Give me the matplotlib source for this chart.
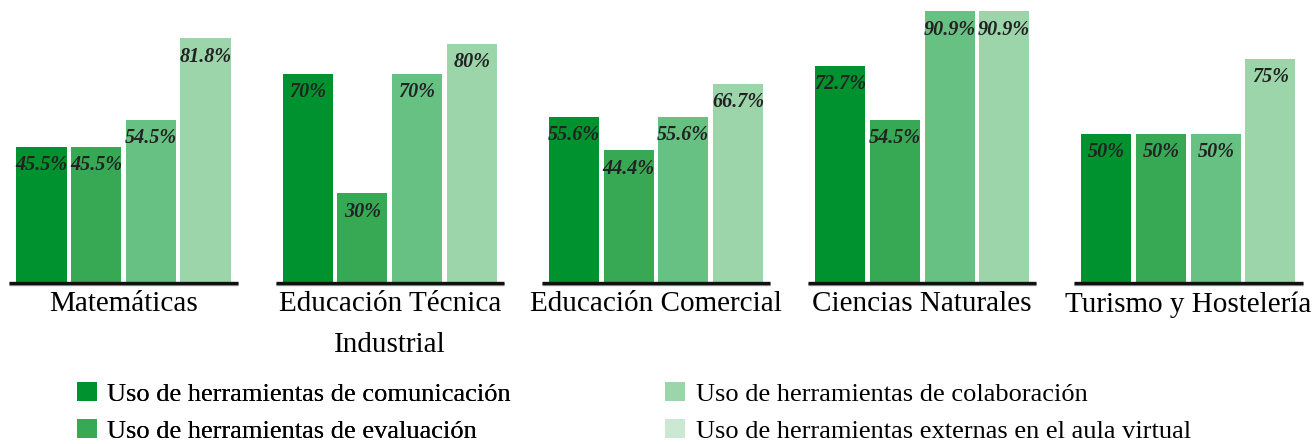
import matplotlib
matplotlib.use('Agg')
import matplotlib.pyplot as plt
from matplotlib.patches import Patch

plt.rcParams['font.family'] = ['Liberation Serif', 'DejaVu Serif']

# Porcentajes por especialidad y tipo de herramienta
especialidades = ['Matemáticas', 'Educación Técnica\nIndustrial', 'Educación Comercial',
                  'Ciencias Naturales', 'Turismo y Hostelería']
comunicacion = [45.5, 70, 55.6, 72.7, 50]
evaluacion = [45.5, 30, 44.4, 54.5, 50]
colaboracion = [54.5, 70, 55.6, 90.9, 50]
externas = [81.8, 80, 66.7, 90.9, 75]

series = [comunicacion, evaluacion, colaboracion, externas]
nombres = ['Uso de herramientas de comunicación', 'Uso de herramientas de evaluación',
           'Uso de herramientas de colaboración', 'Uso de herramientas externas en el aula virtual']
colores = ['#00922e', '#37a955', '#66c183', '#9dd5ab']
colores_leyenda = ['#00922e', '#37a955', '#9dd5ab', '#cbe8d3']

paso_grupo = 4.87
ancho = 0.915

fig = plt.figure(figsize=(13.12, 4.44), dpi=100)
ax = fig.add_axes([0, 0.3626, 1, 0.6374])

centros = []
for g, esp in enumerate(especialidades):
    x0 = g * paso_grupo
    for i, s in enumerate(series):
        v = s[g]
        ax.bar(x0 + i, v, width=ancho, color=colores[i], linewidth=0)
        ax.annotate(f'{v:g}%', (x0 + i, v), xytext=(0, -6), textcoords='offset points',
                    ha='center', va='top', fontsize=14.5, fontweight='bold', fontstyle='italic',
                    color='#222222')
    # línea base de cada grupo
    ax.plot([x0 - ancho / 2 - 0.13, x0 + 3 + ancho / 2 + 0.13], [-0.3, -0.3], color='#999999',
            lw=2.4, solid_capstyle='butt', clip_on=False, zorder=2)
    ax.plot([x0 - ancho / 2 - 0.13, x0 + 3 + ancho / 2 + 0.13], [0, 0], color='#111111',
            lw=2.4, solid_capstyle='butt', clip_on=False, zorder=3)
    centros.append(x0 + 1.5)

ax.set_xlim(-0.759, 23.24)
ax.set_ylim(0, 94.65)
ax.set_xticks(centros)
ax.set_xticklabels(especialidades, fontsize=21, linespacing=1.75)
ax.tick_params(axis='x', length=0, pad=6)
ax.set_yticks([])
for sp in ax.spines.values():
    sp.set_visible(False)

h = [Patch(facecolor=c, edgecolor='none') for c in colores_leyenda]
opts = dict(loc='upper left', frameon=False, fontsize=19, handlelength=0.75, handleheight=0.75,
            handletextpad=0.4, labelspacing=0.5, borderpad=0, borderaxespad=0)
leg1 = fig.legend(h[:2], nombres[:2], bbox_to_anchor=(0.0587, 0.14), **opts)
leg2 = fig.legend(h[2:], nombres[2:], bbox_to_anchor=(0.507, 0.14), **opts)
fig.add_artist(leg1)

fig.savefig('out.png', dpi=100)
